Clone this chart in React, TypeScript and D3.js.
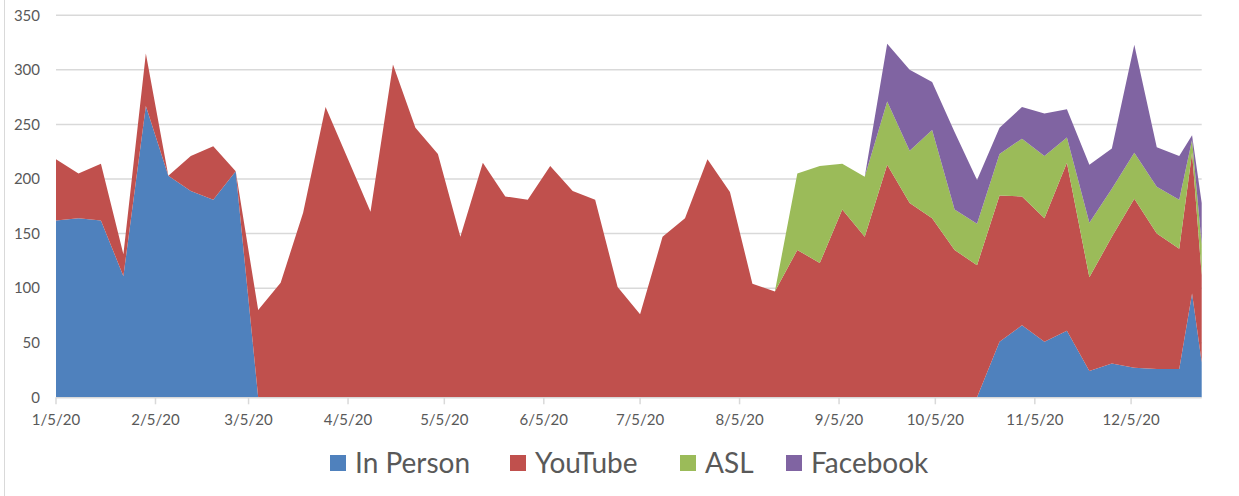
import React, { useEffect, useRef } from "react";
import * as d3 from "d3";

// weekly attendance
const dates = [
  "1/5/20", "1/12/20", "1/19/20", "1/26/20", "2/2/20", "2/9/20", "2/16/20", "2/23/20", "3/1/20",
  "3/8/20", "3/15/20", "3/22/20", "3/29/20", "4/5/20", "4/12/20", "4/19/20", "4/26/20", "5/3/20",
  "5/10/20", "5/17/20", "5/24/20", "5/31/20", "6/7/20", "6/14/20", "6/21/20", "6/28/20", "7/5/20",
  "7/12/20", "7/19/20", "7/26/20", "8/2/20", "8/9/20", "8/16/20", "8/23/20", "8/30/20", "9/6/20",
  "9/13/20", "9/20/20", "9/27/20", "10/4/20", "10/11/20", "10/18/20", "10/25/20", "11/1/20", "11/8/20",
  "11/15/20", "11/22/20", "11/29/20", "12/6/20", "12/13/20", "12/20/20", "12/24/20", "12/27/20",
];

const inPerson = [
  162, 164, 162, 111, 267, 203, 189, 181, 207,
  0, 0, 0, 0, 0, 0, 0, 0, 0, 0, 0, 0, 0, 0, 0, 0, 0, 0, 0, 0, 0, 0, 0, 0,
  0, 0, 0, 0, 0, 0, 0, 0, 0,
  51, 66, 51, 61, 24, 31, 27, 26, 26, 95, 32,
];

const youTube = [
  56, 41, 52, 20, 48, 0, 32, 49, 0,
  80, 105, 169, 266, 218, 170, 305, 247, 223, 147, 215, 184, 181, 212, 189, 181, 101, 76, 147, 164, 218, 188, 104, 97,
  135, 123, 172, 147, 213, 178, 164, 135, 121,
  134, 118, 113, 154, 86, 116, 155, 124, 110, 129, 80,
];

const asl = [
  0, 0, 0, 0, 0, 0, 0, 0, 0,
  0, 0, 0, 0, 0, 0, 0, 0, 0, 0, 0, 0, 0, 0, 0, 0, 0, 0, 0, 0, 0, 0, 0, 0,
  70, 89, 42, 55, 58, 48, 81, 37, 38,
  38, 53, 57, 23, 50, 44, 42, 43, 45, 12, 28,
];

const facebook = [
  0, 0, 0, 0, 0, 0, 0, 0, 0,
  0, 0, 0, 0, 0, 0, 0, 0, 0, 0, 0, 0, 0, 0, 0, 0, 0, 0, 0, 0, 0, 0, 0, 0,
  0, 0, 0, 0, 53, 74, 44, 71, 40,
  24, 29, 39, 26, 53, 37, 99, 36, 40, 4, 38,
];

const seriesNames = ["In Person", "YouTube", "ASL", "Facebook"];
const seriesColors = ["#4F81BD", "#C0504D", "#9BBB59", "#8064A2"];
const xTickLabels = [
  "1/5/20", "2/5/20", "3/5/20", "4/5/20", "5/5/20", "6/5/20",
  "7/5/20", "8/5/20", "9/5/20", "10/5/20", "11/5/20", "12/5/20",
];
const yTicks = [0, 50, 100, 150, 200, 250, 300, 350];

export default function App() {
  const ref = useRef<SVGSVGElement>(null);

  useEffect(() => {
    const width = 1239;
    const height = 496;
    const left = 56;
    const right = 1201.7;
    const top = 15.3;
    const bottom = 397.3;
    const font = "Lato, 'Open Sans', sans-serif";
    const textColor = "#595959";

    const parse = d3.timeParse("%m/%d/%y");
    const table = dates.map((d, i) => ({
      date: parse(d) as Date,
      "In Person": inPerson[i],
      YouTube: youTube[i],
      ASL: asl[i],
      Facebook: facebook[i],
    }));

    const svg = d3.select(ref.current).attr("width", width).attr("height", height);
    svg.selectAll("*").remove();

    const x = d3.scaleTime()
      .domain([table[0].date, table[table.length - 1].date])
      .range([left, right]);
    const y = d3.scaleLinear().domain([0, 350]).range([bottom, top]);

    // chart border on the left
    svg.append("line")
      .attr("x1", 4.5).attr("x2", 4.5).attr("y1", 0).attr("y2", height)
      .attr("stroke", "#d9d9d9").attr("stroke-width", 1);

    // gridlines
    svg.append("g").selectAll("line").data(yTicks.filter(t => t > 0)).join("line")
      .attr("x1", left).attr("x2", right)
      .attr("y1", d => y(d)).attr("y2", d => y(d))
      .attr("stroke", "#d9d9d9").attr("stroke-width", 1.5);

    const stack = d3.stack<any>().keys(seriesNames);
    const layers = stack(table);

    const area = d3.area<any>()
      .x(d => x(d.data.date))
      .y0(d => y(d[0]))
      .y1(d => y(d[1]));

    svg.append("g").selectAll("path").data(layers).join("path")
      .attr("d", area)
      .attr("fill", (d, i) => seriesColors[i]);

    // x axis
    const xTicks = xTickLabels.map(t => parse(t) as Date);
    const xAxis = svg.append("g");
    xAxis.append("line")
      .attr("x1", left).attr("x2", right).attr("y1", bottom + 0.5).attr("y2", bottom + 0.5)
      .attr("stroke", "#d9d9d9").attr("stroke-width", 1.5);
    xAxis.selectAll(".tick").data(xTicks).join("line").attr("class", "tick")
      .attr("x1", d => x(d)).attr("x2", d => x(d))
      .attr("y1", bottom).attr("y2", bottom + 7)
      .attr("stroke", "#d9d9d9").attr("stroke-width", 1.5);
    xAxis.selectAll("text").data(xTicks).join("text")
      .attr("x", d => x(d)).attr("y", 425)
      .attr("text-anchor", "middle")
      .style("font-family", font).style("font-size", "15px").attr("fill", textColor)
      .text((d, i) => xTickLabels[i]);

    // y axis labels
    svg.append("g").selectAll("text").data(yTicks).join("text")
      .attr("x", 40).attr("y", d => y(d))
      .attr("dy", "0.35em")
      .attr("text-anchor", "end")
      .style("font-family", font).style("font-size", "15px").attr("fill", textColor)
      .text(d => d);

    // legend
    const legendX = [330, 510, 680, 786];
    const legend = svg.append("g").selectAll("g").data(seriesNames).join("g")
      .attr("transform", (d, i) => `translate(${legendX[i]}, 455)`);
    legend.append("rect")
      .attr("width", 16).attr("height", 16)
      .attr("fill", (d, i) => seriesColors[i]);
    legend.append("text")
      .attr("x", 25).attr("y", 18)
      .style("font-family", font).style("font-size", "28px").attr("fill", textColor)
      .text(d => d);
  }, []);

  return <svg ref={ref} style={{ position: "absolute", left: 0, top: 0 }} />;
}
